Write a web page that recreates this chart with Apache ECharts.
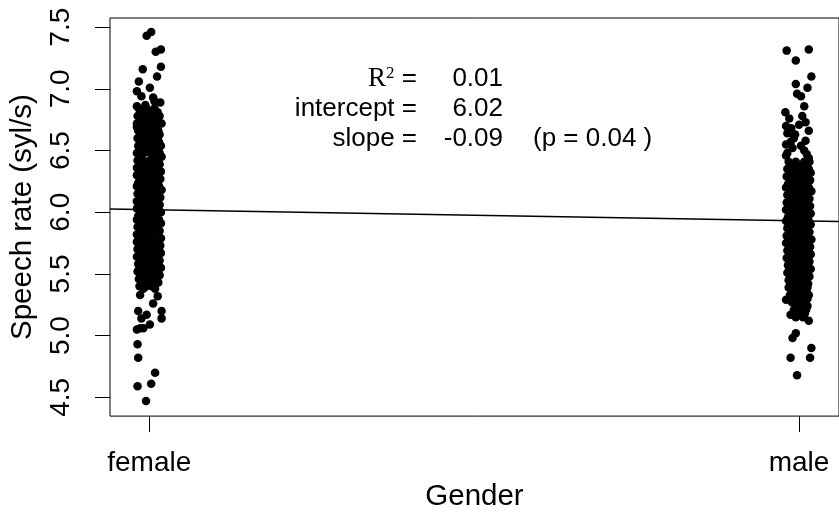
<!DOCTYPE html>
<html><head><meta charset="utf-8">
<script src="https://cdn.jsdelivr.net/npm/echarts@6/dist/echarts.min.js"></script>
<style>html,body{margin:0;padding:0;background:#fff}#c{width:839px;height:517px}</style>
</head><body><div id="c"></div>
<script>
// ---------- data ----------
const categories = ['female', 'male'];
const categoryX = [0, 1];
const yTickValues = [4.5, 5.0, 5.5, 6.0, 6.5, 7.0, 7.5];
const yTickLabels = ['4.5', '5.0', '5.5', '6.0', '6.5', '7.0', '7.5'];
const xAxisName = 'Gender';
const yAxisName = 'Speech rate (syl/s)';
const statLabels = ['=', 'intercept =', 'slope ='];
const statValues = ['0.01', '6.02', '-0.09'];
const pValueText = '(p = 0.04 )';
const intercept = 6.02;
const slope = -0.09;

// female: isolated points [jitter, rate]
const femaleSparse = [
  [-0.004,7.43],[0.003,7.46],[0.010,7.30],[0.018,7.32],[0.018,7.18],[-0.010,7.16],
  [0.012,7.10],[-0.016,7.06],[-0.019,6.98],[0.001,7.01],[-0.012,6.94],[0.006,6.93],
  [0.017,6.89],[-0.019,6.86],[0.019,6.72],[-0.019,6.69],[0.008,6.90],[-0.006,6.87],
  [-0.014,5.33],[0.013,5.32],[0.006,5.26],[-0.017,5.20],[-0.004,5.17],[0.019,5.20],
  [0.019,5.14],[-0.012,5.14],[0.001,5.09],[-0.014,5.06],[-0.019,5.05],[-0.009,5.06],
  [-0.018,4.93],[-0.017,4.82],[0.009,4.70],[-0.018,4.59],[0.003,4.61],[-0.005,4.47]
];
// female: dense core, rows of [rate, jitters]
const femaleRows = [
  [6.84,[-0.016,-0.004,0.008]],[6.81,[-0.012,0.002,0.013]],[6.78,[-0.018,-0.006,0.009,0.016]],
  [6.75,[-0.014,0.000,0.006]],[6.72,[-0.019,-0.008,0.004,0.012]],[6.69,[-0.013,-0.002,0.009]],
  [6.66,[-0.017,-0.006,0.005,0.014]],[6.63,[-0.011,0.002,0.016]],[6.60,[-0.018,-0.004,0.008,0.013]],
  [6.57,[-0.014,-0.007,0.003,0.015]],[6.54,[-0.017,0.000,0.010,0.018]],[6.51,[-0.012,-0.005,0.006,0.014]],
  [6.48,[-0.019,-0.008,0.002,0.016]],[6.45,[-0.015,0.005,0.011,0.019]],[6.42,[-0.018,-0.010,0.000,0.009]],
  [6.39,[-0.013,-0.003,0.007,0.016]],[6.36,[-0.019,-0.008,0.003,0.012]],[6.33,[-0.016,-0.001,0.009,0.018]],
  [6.30,[-0.019,-0.009,0.005,0.014]],[6.27,[-0.012,-0.002,0.008,0.017]],[6.24,[-0.017,-0.007,0.002,0.012]],
  [6.21,[-0.019,-0.010,0.006,0.015]],[6.18,[-0.014,-0.002,0.010,0.019]],[6.15,[-0.018,-0.006,0.004,0.013]],
  [6.12,[-0.012,-0.003,0.008,0.017]],[6.09,[-0.019,-0.009,0.002,0.012]],[6.06,[-0.015,-0.005,0.006,0.016]],
  [6.03,[-0.019,-0.009,0.003,0.014]],[6.00,[-0.013,0.000,0.009,0.018]],[5.97,[-0.017,-0.007,0.005,0.012]],
  [5.94,[-0.019,-0.011,0.002,0.015]],[5.91,[-0.014,-0.004,0.008,0.018]],[5.88,[-0.018,-0.008,0.003,0.012]],
  [5.85,[-0.012,-0.001,0.009,0.016]],[5.82,[-0.019,-0.009,0.005,0.014]],[5.79,[-0.016,-0.005,0.002,0.018]],
  [5.76,[-0.019,-0.010,0.007,0.012]],[5.73,[-0.013,-0.002,0.010,0.017]],[5.70,[-0.018,-0.006,0.004,0.015]],
  [5.67,[-0.015,-0.003,0.008,0.018]],[5.64,[-0.019,-0.009,0.001,0.012]],[5.61,[-0.012,-0.005,0.006,0.016]],
  [5.58,[-0.017,-0.008,0.003,0.014]],[5.55,[-0.015,-0.002,0.009,0.018]],[5.52,[-0.018,-0.006,0.005,0.012]],
  [5.49,[-0.013,-0.002,0.008,0.016]],[5.46,[-0.016,-0.008,0.003,0.011]],[5.43,[-0.012,0.000,0.007,0.014]],
  [5.40,[-0.015,-0.005,0.004]],[5.38,[-0.009,0.009]]
];
// male: isolated points [jitter, rate]
const maleSparse = [
  [-0.019,7.31],[0.015,7.32],[-0.005,7.23],[0.019,7.10],[-0.005,7.04],[0.013,7.01],
  [-0.003,6.96],[0.003,6.94],[0.008,6.86],[-0.021,6.81],[0.005,6.78],[-0.015,6.76],
  [0.010,6.73],[0.015,6.66],[-0.012,6.68],[-0.006,6.63],[-0.018,6.64],[-0.013,6.57],
  [0.003,6.54],[-0.018,6.48],[-0.020,6.46],[0.015,6.44],[-0.020,6.70],[0.000,6.71],
  [-0.008,6.60],[0.010,6.58],[-0.020,6.55],[0.008,6.50],[-0.010,6.52],[0.012,6.47],
  [-0.020,5.29],[-0.013,5.17],[0.015,5.12],[-0.005,5.02],[-0.010,4.98],[0.019,4.90],
  [-0.013,4.82],[0.017,4.82],[-0.003,4.68]
];
// male: dense core, rows of [rate, jitters]
const maleRows = [
  [6.41,[-0.016,-0.005,0.008,0.016]],[6.38,[-0.012,0.002,0.012]],[6.35,[-0.018,-0.007,0.005,0.015]],
  [6.32,[-0.014,-0.002,0.009,0.018]],[6.29,[-0.019,-0.008,0.003,0.013]],[6.26,[-0.012,-0.004,0.007,0.017]],
  [6.23,[-0.017,-0.006,0.002,0.012]],[6.20,[-0.020,-0.010,0.005,0.015]],[6.17,[-0.014,-0.001,0.009,0.019]],
  [6.14,[-0.018,-0.007,0.003,0.012]],[6.11,[-0.012,-0.003,0.008,0.016]],[6.08,[-0.019,-0.009,0.002,0.013]],
  [6.05,[-0.015,-0.005,0.006,0.017]],[6.02,[-0.020,-0.009,0.003,0.012]],[5.99,[-0.013,0.000,0.009,0.018]],
  [5.96,[-0.017,-0.006,0.005,0.014]],[5.93,[-0.020,-0.011,0.001,0.015]],[5.90,[-0.014,-0.004,0.008,0.018]],
  [5.87,[-0.018,-0.008,0.003,0.012]],[5.84,[-0.012,-0.002,0.009,0.016]],[5.81,[-0.019,-0.009,0.005,0.014]],
  [5.78,[-0.016,-0.005,0.002,0.019]],[5.75,[-0.020,-0.010,0.007,0.012]],[5.72,[-0.013,-0.002,0.010,0.017]],
  [5.69,[-0.018,-0.006,0.004,0.015]],[5.66,[-0.015,-0.003,0.008,0.018]],[5.63,[-0.019,-0.009,0.001,0.012]],
  [5.60,[-0.012,-0.005,0.006,0.016]],[5.57,[-0.017,-0.008,0.003,0.014]],[5.54,[-0.015,-0.002,0.009,0.018]],
  [5.51,[-0.018,-0.006,0.005,0.012]],[5.48,[-0.013,-0.002,0.008,0.016]],[5.45,[-0.016,-0.008,0.003,0.011]],
  [5.42,[-0.012,0.000,0.007,0.014]],[5.39,[-0.016,-0.005,0.004,0.013]],[5.36,[-0.009,0.002,0.011]],
  [5.33,[-0.014,-0.003,0.008,0.015]],[5.30,[-0.006,0.005,0.013]],[5.27,[-0.011,0.000,0.009]],
  [5.24,[-0.005,0.006,0.013]],[5.21,[-0.008,0.003,0.011]],[5.18,[-0.002,0.009]],[5.15,[-0.005,0.006]]
];

// ---------- build ----------
function buildPoints(base, sparse, rows) {
  const pts = sparse.map(p => [base + p[0], p[1]]);
  rows.forEach(r => r[1].forEach(j => pts.push([base + j, r[0]])));
  return pts;
}
const femalePts = buildPoints(categoryX[0], femaleSparse, femaleRows);
const malePts = buildPoints(categoryX[1], maleSparse, maleRows);

const xMin = -0.0604, xMax = 1.0615;
const yMin = 4.348, yMax = 7.5744;
const fitLine = [[xMin, intercept + slope * xMin], [xMax, intercept + slope * xMax]];

const FONT = 'Liberation Sans, Arial, Helvetica, sans-serif';
const AFONT = '26px ' + FONT;
function statText(x, y, text, align) {
  return {type: 'text', x: x, y: y, z: 10, style: {text: text, align: align, verticalAlign: 'middle',
    textAlign: align, textVerticalAlign: 'middle', font: AFONT, fill: '#000'}};
}
const chart = echarts.init(document.getElementById('c'), null, {renderer: 'canvas'});
chart.setOption({
  animation: false,
  backgroundColor: '#fff',
  grid: {left: 110, right: -1, top: 18, bottom: 96, show: true, borderColor: '#000', borderWidth: 1, backgroundColor: 'transparent'},
  xAxis: {
    type: 'value', min: xMin, max: xMax,
    name: xAxisName, nameLocation: 'middle', nameGap: 63,
    nameTextStyle: {fontFamily: FONT, fontSize: 29.5, color: '#000'},
    axisLine: {show: false, onZero: false},
    splitLine: {show: false},
    axisTick: {show: true, inside: false, length: 16, customValues: categoryX, lineStyle: {color: '#000', width: 1}},
    axisLabel: {customValues: categoryX, margin: 33, fontFamily: FONT, fontSize: 28, color: '#000',
      formatter: v => categories[categoryX.indexOf(Math.round(v))]}
  },
  yAxis: {
    type: 'value', min: yMin, max: yMax,
    name: yAxisName, nameLocation: 'middle', nameGap: 72,
    nameTextStyle: {fontFamily: FONT, fontSize: 29.5, color: '#000'},
    axisLine: {show: false, onZero: false},
    splitLine: {show: false},
    axisTick: {show: true, inside: false, length: 15, customValues: yTickValues, lineStyle: {color: '#000', width: 1}},
    axisLabel: {customValues: yTickValues, rotate: 90, margin: 35, fontFamily: FONT, fontSize: 28, color: '#000',
      formatter: v => yTickLabels[yTickValues.findIndex(t => Math.abs(t - v) < 1e-6)]}
  },
  series: [
    {type: 'scatter', data: femalePts, symbol: 'circle', symbolSize: 8.5, itemStyle: {color: '#000', opacity: 1}, silent: true},
    {type: 'scatter', data: malePts, symbol: 'circle', symbolSize: 8.5, itemStyle: {color: '#000', opacity: 1}, silent: true},
    {type: 'line', data: fitLine, showSymbol: false, symbol: 'none', lineStyle: {color: '#000', width: 1.5}, z: 5, silent: true}
  ],
  graphic: [
    {type: 'text', x: 417, y: 79, z: 10, style: {
      text: '{r|R}{s|2} ' + statLabels[0], align: 'right', verticalAlign: 'middle', textAlign: 'right', textVerticalAlign: 'middle',
      font: AFONT, fill: '#000',
      rich: {r: {fontFamily: 'Liberation Serif', fontSize: 27}, s: {fontFamily: 'Liberation Serif', fontSize: 17, verticalAlign: 'top'}}
    }},
    statText(417, 109, statLabels[1], 'right'),
    statText(417, 139, statLabels[2], 'right'),
    statText(503, 79, statValues[0], 'right'),
    statText(503, 109, statValues[1], 'right'),
    statText(503, 139, statValues[2], 'right'),
    statText(533, 139, pValueText, 'left')
  ]
});
</script></body></html>
